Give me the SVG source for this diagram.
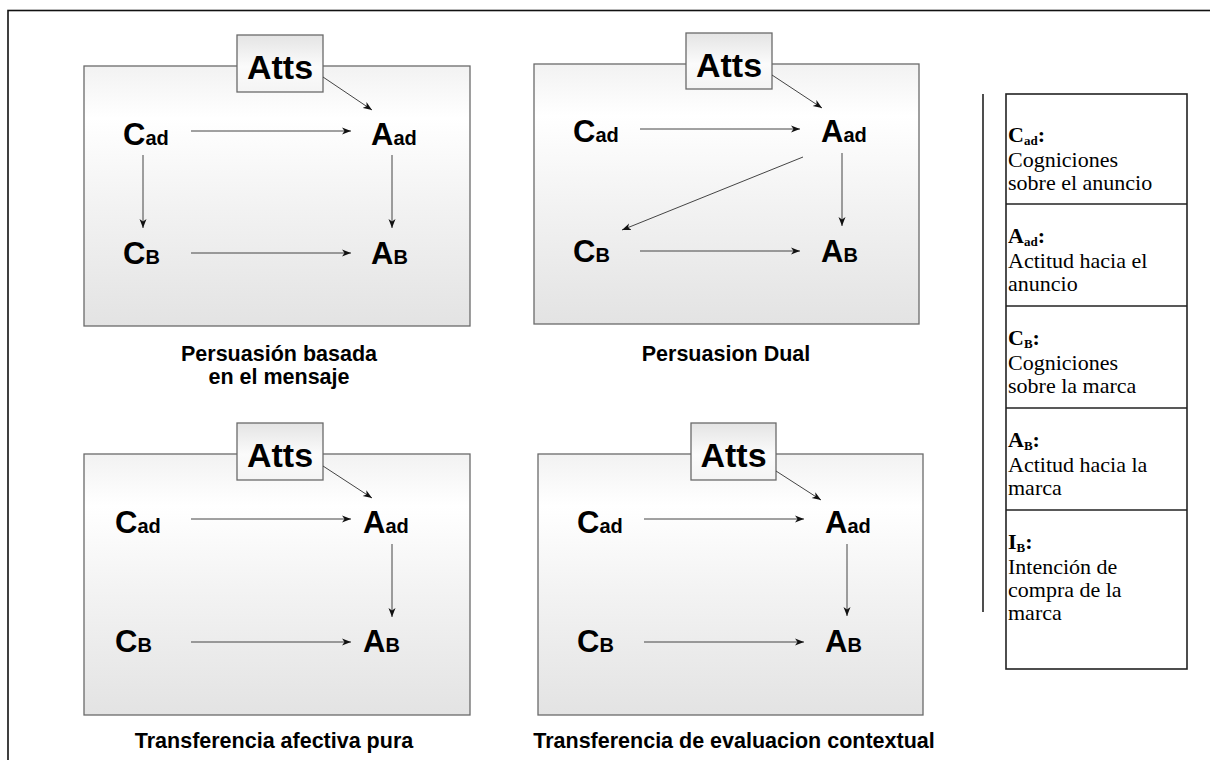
<svg xmlns="http://www.w3.org/2000/svg" width="1210" height="760" viewBox="0 0 1210 760">
  <defs>
    <linearGradient id="panelFill" x1="0" y1="0" x2="0" y2="1">
      <stop offset="0" stop-color="#f2f2f2"/>
      <stop offset="0.2" stop-color="#ffffff"/>
      <stop offset="0.55" stop-color="#f2f2f2"/>
      <stop offset="1" stop-color="#e3e3e3"/>
    </linearGradient>
    <linearGradient id="attsFill" x1="0" y1="0" x2="0" y2="1">
      <stop offset="0" stop-color="#e4e4e4"/>
      <stop offset="0.55" stop-color="#fbfbfb"/>
      <stop offset="1" stop-color="#f4f4f4"/>
    </linearGradient>
    <marker id="arrow" viewBox="0 0 10 8" refX="9" refY="4" markerWidth="10" markerHeight="8" markerUnits="userSpaceOnUse" orient="auto">
      <path d="M0,0.5 L9,4 L0,7.5 L2.5,4 z" fill="#111"/>
    </marker>
    <style>
      .frame { fill: none; stroke: #111; stroke-width: 1.6; }
      .panel { fill: url(#panelFill); stroke: #6a6a6a; stroke-width: 1.3; }
      .atts-box { fill: url(#attsFill); stroke: #6a6a6a; stroke-width: 1.3; }
      .atts { font-family: "Liberation Sans", Arial, sans-serif; font-weight: bold; font-size: 34px; fill: #000; text-anchor: middle; }
      .sym { font-family: "Liberation Sans", Arial, sans-serif; font-weight: bold; font-size: 31px; fill: #000; }
      .sub { font-size: 20px; }
      .caption { font-family: "Liberation Sans", Arial, sans-serif; font-weight: bold; font-size: 21.5px; fill: #000; text-anchor: middle; }
      .link { stroke: #444; stroke-width: 1; fill: none; marker-end: url(#arrow); }
      .legend-box { fill: #fff; stroke: #222; stroke-width: 1.6; }
      .legend-rule { stroke: #222; stroke-width: 1.6; }
      .legend-head { font-family: "Liberation Serif", "Times New Roman", serif; font-weight: bold; font-size: 22px; fill: #000; }
      .legend-sub { font-size: 13px; }
      .legend-text { font-family: "Liberation Serif", "Times New Roman", serif; font-size: 22px; fill: #000; }
    </style>
  </defs>

  <rect width="1210" height="760" fill="#fff"/>
  <!-- outer frame, open to the right and bottom -->
  <rect class="frame" x="8" y="10.5" width="1300" height="900"/>

  <!-- Panel 1: Persuasión basada en el mensaje -->
  <g id="panel-1">
    <rect class="panel" x="84" y="66" width="386" height="260"/>
    <g id="p1-atts">
      <rect class="atts-box" x="237" y="35" width="86" height="57"/>
      <text class="atts" x="280" y="79">Atts</text>
    </g>
    <g id="p1-cad"><text class="sym" x="123" y="145">C<tspan class="sub">ad</tspan></text></g>
    <g id="p1-aad"><text class="sym" x="371" y="145">A<tspan class="sub">ad</tspan></text></g>
    <g id="p1-cb"><text class="sym" x="123" y="264">C<tspan class="sub">B</tspan></text></g>
    <g id="p1-ab"><text class="sym" x="371" y="264">A<tspan class="sub">B</tspan></text></g>
    <g id="p1-connectors">
      <line class="link" x1="323" y1="77" x2="372" y2="110"/>
      <line class="link" x1="191" y1="131" x2="351" y2="131"/>
      <line class="link" x1="191" y1="253" x2="351" y2="253"/>
      <line class="link" x1="143" y1="155" x2="143" y2="228"/>
      <line class="link" x1="392" y1="155" x2="392" y2="228"/>
    </g>
    <text class="caption" x="279" y="361">Persuasión basada</text>
    <text class="caption" x="279" y="384">en el mensaje</text>
  </g>

  <!-- Panel 2: Persuasion Dual -->
  <g id="panel-2">
    <rect class="panel" x="534" y="64" width="385" height="260"/>
    <g id="p2-atts">
      <rect class="atts-box" x="686" y="33" width="86" height="56"/>
      <text class="atts" x="729" y="77">Atts</text>
    </g>
    <g id="p2-cad"><text class="sym" x="573" y="142">C<tspan class="sub">ad</tspan></text></g>
    <g id="p2-aad"><text class="sym" x="821" y="142">A<tspan class="sub">ad</tspan></text></g>
    <g id="p2-cb"><text class="sym" x="573" y="262">C<tspan class="sub">B</tspan></text></g>
    <g id="p2-ab"><text class="sym" x="821" y="262">A<tspan class="sub">B</tspan></text></g>
    <g id="p2-connectors">
      <line class="link" x1="772" y1="75" x2="822" y2="108"/>
      <line class="link" x1="640" y1="129" x2="800" y2="129"/>
      <line class="link" x1="640" y1="251" x2="800" y2="251"/>
      <line class="link" x1="842" y1="153" x2="842" y2="226"/>
      <line class="link" x1="803" y1="157" x2="622" y2="230"/>
    </g>
    <text class="caption" x="726" y="361">Persuasion Dual</text>
  </g>

  <!-- Panel 3: Transferencia afectiva pura -->
  <g id="panel-3">
    <rect class="panel" x="84" y="454" width="386" height="261"/>
    <g id="p3-atts">
      <rect class="atts-box" x="237" y="423" width="86" height="57"/>
      <text class="atts" x="280" y="467">Atts</text>
    </g>
    <g id="p3-cad"><text class="sym" x="115" y="533">C<tspan class="sub">ad</tspan></text></g>
    <g id="p3-aad"><text class="sym" x="363" y="533">A<tspan class="sub">ad</tspan></text></g>
    <g id="p3-cb"><text class="sym" x="115" y="652">C<tspan class="sub">B</tspan></text></g>
    <g id="p3-ab"><text class="sym" x="363" y="652">A<tspan class="sub">B</tspan></text></g>
    <g id="p3-connectors">
      <line class="link" x1="323" y1="466" x2="372" y2="498"/>
      <line class="link" x1="191" y1="519" x2="351" y2="519"/>
      <line class="link" x1="191" y1="642" x2="351" y2="642"/>
      <line class="link" x1="392" y1="544" x2="392" y2="617"/>
    </g>
    <text class="caption" x="274" y="748">Transferencia afectiva pura</text>
  </g>

  <!-- Panel 4: Transferencia de evaluacion contextual -->
  <g id="panel-4">
    <rect class="panel" x="538" y="454" width="385" height="261"/>
    <g id="p4-atts">
      <rect class="atts-box" x="691" y="423" width="85" height="57"/>
      <text class="atts" x="733.5" y="467">Atts</text>
    </g>
    <g id="p4-cad"><text class="sym" x="577" y="533">C<tspan class="sub">ad</tspan></text></g>
    <g id="p4-aad"><text class="sym" x="825" y="533">A<tspan class="sub">ad</tspan></text></g>
    <g id="p4-cb"><text class="sym" x="577" y="652">C<tspan class="sub">B</tspan></text></g>
    <g id="p4-ab"><text class="sym" x="825" y="652">A<tspan class="sub">B</tspan></text></g>
    <g id="p4-connectors">
      <line class="link" x1="776" y1="471" x2="821" y2="500"/>
      <line class="link" x1="644" y1="519" x2="804" y2="519"/>
      <line class="link" x1="644" y1="642" x2="804" y2="642"/>
      <line class="link" x1="847" y1="544" x2="847" y2="616"/>
    </g>
    <text class="caption" x="734" y="748">Transferencia de evaluacion contextual</text>
  </g>

  <!-- Legend -->
  <g id="legend">
    <line class="legend-rule" x1="983" y1="94" x2="983" y2="612"/>
    <rect class="legend-box" x="1006" y="94" width="181" height="575"/>
    <line class="legend-rule" x1="1006" y1="204" x2="1187" y2="204"/>
    <line class="legend-rule" x1="1006" y1="306" x2="1187" y2="306"/>
    <line class="legend-rule" x1="1006" y1="408" x2="1187" y2="408"/>
    <line class="legend-rule" x1="1006" y1="510" x2="1187" y2="510"/>

    <g id="legend-cad">
      <text class="legend-head" x="1008" y="142">C<tspan class="legend-sub" dy="3">ad</tspan><tspan dy="-3">:</tspan></text>
      <text class="legend-text" x="1008" y="167">Cogniciones</text>
      <text class="legend-text" x="1008" y="190">sobre el anuncio</text>
    </g>
    <g id="legend-aad">
      <text class="legend-head" x="1008" y="243">A<tspan class="legend-sub" dy="3">ad</tspan><tspan dy="-3">:</tspan></text>
      <text class="legend-text" x="1008" y="268">Actitud hacia el</text>
      <text class="legend-text" x="1008" y="291">anuncio</text>
    </g>
    <g id="legend-cb">
      <text class="legend-head" x="1008" y="345">C<tspan class="legend-sub" dy="3">B</tspan><tspan dy="-3">:</tspan></text>
      <text class="legend-text" x="1008" y="370">Cogniciones</text>
      <text class="legend-text" x="1008" y="393">sobre la marca</text>
    </g>
    <g id="legend-ab">
      <text class="legend-head" x="1008" y="447">A<tspan class="legend-sub" dy="3">B</tspan><tspan dy="-3">:</tspan></text>
      <text class="legend-text" x="1008" y="472">Actitud hacia la</text>
      <text class="legend-text" x="1008" y="495">marca</text>
    </g>
    <g id="legend-ib">
      <text class="legend-head" x="1008" y="549">I<tspan class="legend-sub" dy="3">B</tspan><tspan dy="-3">:</tspan></text>
      <text class="legend-text" x="1008" y="574">Intención de</text>
      <text class="legend-text" x="1008" y="597">compra de la</text>
      <text class="legend-text" x="1008" y="620">marca</text>
    </g>
  </g>
</svg>
